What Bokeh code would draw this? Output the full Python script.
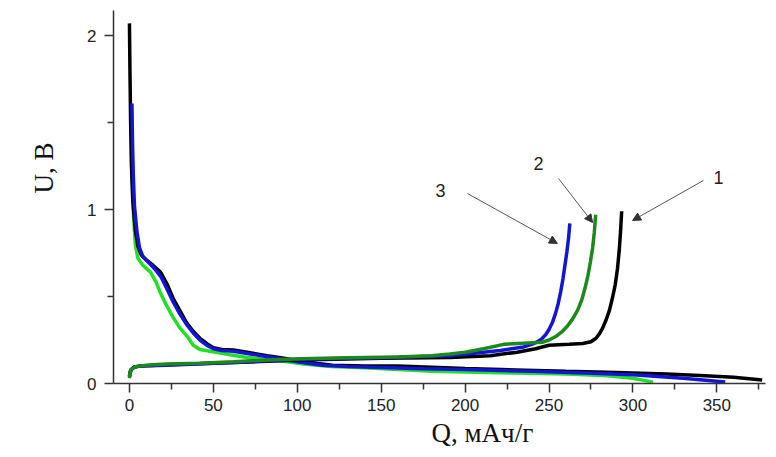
from bokeh.plotting import figure
from bokeh.models import FixedTicker, Label, Arrow, NormalHead, Range1d, Title
from bokeh.embed import file_html
from bokeh.resources import INLINE

# ---- data ----
# curve 1 (black)
q1_dis = [0, 0.3, 0.7, 1.2, 2, 3.5, 5, 7, 10, 14, 18.5, 22.5, 26, 30, 34, 38, 42, 46, 50, 55, 62, 70, 82, 92,
          102, 112, 121, 140, 160, 180, 200, 230, 260, 290, 320, 340, 360, 377]
u1_dis = [2.07, 1.8, 1.5, 1.25, 1.05, 0.88, 0.79, 0.74, 0.71, 0.68, 0.64, 0.57, 0.49, 0.42, 0.35, 0.30, 0.26,
          0.23, 0.205, 0.195, 0.192, 0.18, 0.16, 0.145, 0.13, 0.115, 0.105, 0.10, 0.10, 0.094, 0.086, 0.078,
          0.07, 0.063, 0.055, 0.046, 0.036, 0.02]
q1_ch = [0, 0.3, 1, 3, 6, 22, 62, 102, 150, 191, 215, 231, 242, 250, 262, 270, 275, 278, 280, 282, 284, 286,
         288, 289.5, 290.8, 291.8, 292.6, 293.3]
u1_ch = [0.04, 0.065, 0.08, 0.095, 0.1, 0.108, 0.12, 0.135, 0.145, 0.15, 0.16, 0.18, 0.2, 0.22, 0.225, 0.23,
         0.24, 0.26, 0.285, 0.32, 0.365, 0.42, 0.5, 0.57, 0.66, 0.76, 0.87, 0.99]

# curve 2 (green)
q2_dis = [1, 1.5, 2.5, 3.5, 5, 8, 12.5, 16, 18.5, 22, 26, 30, 34.5, 38, 42, 48, 60, 70, 80, 92, 105, 120, 140,
          160, 180, 200, 230, 260, 285, 300, 312]
u2_dis = [1.45, 1.2, 0.95, 0.8, 0.72, 0.68, 0.64, 0.58, 0.52, 0.45, 0.38, 0.32, 0.27, 0.22, 0.195, 0.185, 0.165,
          0.15, 0.14, 0.128, 0.11, 0.097, 0.09, 0.08, 0.07, 0.066, 0.06, 0.055, 0.045, 0.03, 0.008]
q2_ch = [0, 0.3, 1, 3, 6, 12, 22, 42, 62, 82, 102, 130, 160, 180, 191, 200, 211, 223, 235, 246, 250, 254, 258,
         261, 264, 267, 269.5, 271.5, 273.2, 274.7, 276, 277, 277.8]
u2_ch = [0.03, 0.06, 0.08, 0.095, 0.1, 0.107, 0.112, 0.117, 0.125, 0.135, 0.142, 0.148, 0.152, 0.16, 0.17, 0.18,
         0.2, 0.225, 0.232, 0.237, 0.25, 0.27, 0.3, 0.33, 0.37, 0.42, 0.48, 0.55, 0.62, 0.7, 0.78, 0.87, 0.97]

# curve 3 (blue)
q3_dis = [1.5, 1.8, 2.3, 3, 4.5, 6, 8, 11, 15, 19, 22, 26, 30, 34, 38, 42, 46, 50, 55, 62, 72, 85, 100, 115,
          130, 150, 175, 200, 240, 280, 300, 330, 355]
u3_dis = [1.61, 1.4, 1.2, 1.02, 0.87, 0.78, 0.73, 0.70, 0.66, 0.61, 0.55, 0.47, 0.40, 0.34, 0.29, 0.25, 0.22,
          0.2, 0.19, 0.185, 0.17, 0.15, 0.125, 0.105, 0.097, 0.092, 0.085, 0.08, 0.07, 0.057, 0.05, 0.03, 0.008]
q3_ch = [0, 1, 3, 6, 22, 62, 102, 150, 191, 221, 235, 241, 244, 246, 248, 250, 252, 253.8, 255.5, 257, 258.3,
         259.5, 260.7, 261.7, 262.4]
u3_ch = [0.04, 0.08, 0.095, 0.1, 0.105, 0.12, 0.14, 0.148, 0.16, 0.19, 0.21, 0.23, 0.245, 0.26, 0.28, 0.31,
         0.35, 0.4, 0.46, 0.53, 0.6, 0.68, 0.76, 0.84, 0.92]

x_ticks = [0, 50, 100, 150, 200, 250, 300, 350]
x_minor = [25, 75, 125, 175, 225, 275, 325, 375]
y_ticks = [0, 1, 2]
y_minor = [0.5, 1.5]

curve_labels = ["1", "2", "3"]
x_title = "Q, мАч/г"
y_title = "U, B"

# ---- figure ----
p = figure(width=776, height=457, output_backend="svg", toolbar_location=None,
           x_range=Range1d(-9.5, 379), y_range=Range1d(0, 2.144),
           min_border_left=113, min_border_right=11, min_border_top=10, min_border_bottom=74)
p.outline_line_color = None
p.grid.visible = False
p.background_fill_color = "white"
p.border_fill_color = "white"

BLACK = "#000000"
BLUE = "#1414d8"
DGREEN = "#1b8a1b"
LGREEN = "#24e024"
LW = 3.5

p.line(q2_dis, u2_dis, color=LGREEN, line_width=LW)
p.line(q1_dis, u1_dis, color=BLACK, line_width=LW)
p.line(q3_dis, u3_dis, color=BLUE, line_width=LW)
p.line(q1_ch, u1_ch, color=BLACK, line_width=LW)
p.line(q3_ch, u3_ch, color=BLUE, line_width=LW)
p.line(q2_ch, u2_ch, color=DGREEN, line_width=LW)

for ax in (p.xaxis[0], p.yaxis[0]):
    ax.axis_line_color = "#333333"
    ax.axis_line_width = 1.5
    ax.major_tick_line_color = "#333333"
    ax.major_tick_line_width = 1.5
    ax.minor_tick_line_color = "#333333"
    ax.minor_tick_line_width = 1.5
    ax.major_tick_out = 9
    ax.major_tick_in = 0
    ax.minor_tick_out = 6
    ax.minor_tick_in = 0
    ax.major_label_text_font = "Liberation Sans"
    ax.major_label_text_font_size = "17px"
    ax.major_label_text_color = "#222222"

p.xaxis[0].ticker = FixedTicker(ticks=x_ticks, minor_ticks=x_minor)
p.yaxis[0].ticker = FixedTicker(ticks=y_ticks, minor_ticks=y_minor)
p.xaxis[0].major_label_standoff = 6
p.yaxis[0].major_label_standoff = 8

# axis titles
p.add_layout(Title(text=x_title, text_font="Liberation Serif", text_font_size="27px",
                   text_font_style="normal", text_color="#111111", align="left", offset=318,
                   standoff=4), "below")
p.add_layout(Title(text=y_title, text_font="Liberation Serif", text_font_size="27px",
                   text_font_style="normal", text_color="#111111", align="left", offset=190,
                   standoff=51), "left")

# curve annotations with arrows
lab_x = [351, 243.7, 185.3]
lab_y = [1.184, 1.264, 1.109]
arr_start = [(342, 1.167), (255.7, 1.178), (201.4, 1.092)]
arr_end = [(299.8, 0.937), (276, 0.925), (255, 0.805)]
for t, lx, ly in zip(curve_labels, lab_x, lab_y):
    p.add_layout(Label(x=lx, y=ly, text=t, text_font="Liberation Sans", text_font_size="18px",
                       text_align="center", text_baseline="middle", text_color="#222222"))
for (sx, sy), (ex, ey) in zip(arr_start, arr_end):
    p.add_layout(Arrow(x_start=sx, y_start=sy, x_end=ex, y_end=ey, line_color="#555555", line_width=1,
                       end=NormalHead(size=8, fill_color="#333333", line_color="#333333")))

open("out.html", "w").write(file_html(p, INLINE))
